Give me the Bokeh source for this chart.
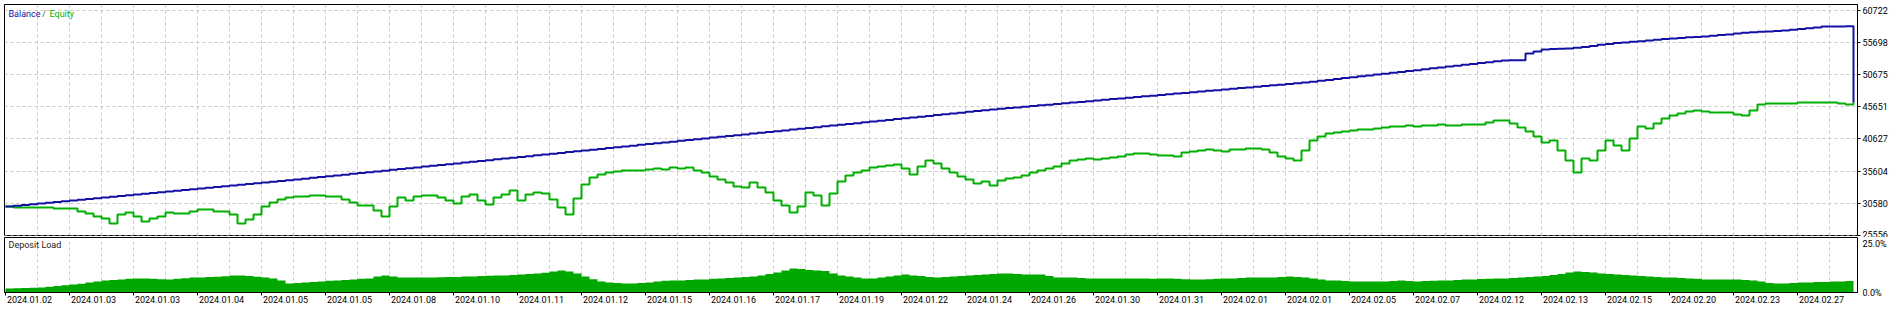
import numpy as np
from bokeh.plotting import figure
from bokeh.models import Range1d, FixedTicker, Label, LinearAxis
from bokeh.layouts import column
from bokeh.embed import file_html
from bokeh.resources import INLINE

# ---------------- data ----------------
equity = [
    30048, 29892, 29892, 29892, 29892, 29892, 29735, 29735, 29735, 29266,
    28953, 28483, 28170, 27388, 28796, 29109, 28483, 27701, 28170, 28483,
    29109, 28953, 28953, 29266, 29579, 29579, 29266, 29266, 28796, 27388,
    28014, 28796, 30048, 30674, 31144, 31457, 31613, 31613, 31770, 31770,
    31613, 31613, 31144, 30674, 30205, 30205, 29422, 28483, 30048, 31457,
    30987, 31613, 31770, 31770, 31457, 30987, 30518, 31613, 31926, 30987,
    30361, 31457, 31926, 32552, 30987, 31926, 32239, 32083, 31144, 29892,
    28796, 31300, 33491, 34587, 35056, 35369, 35526, 35682, 35682, 35682,
    35839, 35995, 35839, 36152, 35995, 36152, 35682, 35369, 34743, 34274,
    33804, 33178, 33022, 33804, 33022, 32239, 30987, 30205, 29109, 30048,
    32239, 31770, 30205, 32083, 33961, 34900, 35369, 35682, 36152, 36308,
    36465, 36621, 35995, 35056, 36308, 37247, 36778, 35995, 35369, 34743,
    34274, 33648, 33961, 33335, 34117, 34430, 34587, 34900, 35369, 35682,
    35995, 36308, 36778, 37247, 37404, 37560, 37404, 37560, 37717, 37873,
    38186, 38343, 38343, 38186, 38030, 38030, 37873, 38499, 38656, 38812,
    38969, 38812, 38656, 38969, 38969, 39125, 39125, 38969, 38499, 37873,
    37560, 37247, 38812, 40377, 41003, 41473, 41629, 41786, 41942, 42099,
    42099, 42255, 42412, 42568, 42568, 42725, 42568, 42725, 42725, 42881,
    42725, 42725, 42881, 42881, 42881, 43194, 43507, 43507, 43038, 42412,
    41786, 41003, 40064, 40377, 38812, 37247, 35369, 37560, 37247, 38812,
    40377, 39595, 38812, 40690, 42568, 42255, 43038, 43820, 44290, 44603,
    44916, 45072, 44916, 44759, 44759, 44759, 44446, 44290, 45072, 46011,
    46168, 46168, 46168, 46168, 46324, 46324, 46324, 46324, 46324, 46168,
    46011, 46324,
]

balance = [
    30048, 30160, 30280, 30395, 30510, 30630, 30745, 30860, 30980, 31095,
    31215, 31330, 31450, 31565, 31680, 31800, 31915, 32030, 32150, 32270,
    32390, 32500, 32620, 32740, 32850, 32970, 33090, 33200, 33320, 33440,
    33555, 33670, 33790, 33905, 34020, 34150, 34275, 34400, 34530, 34655,
    34780, 34905, 35030, 35160, 35285, 35410, 35535, 35660, 35790, 35915,
    36040, 36165, 36290, 36420, 36545, 36670, 36795, 36920, 37050, 37175,
    37300, 37425, 37550, 37680, 37805, 37930, 38055, 38180, 38310, 38435,
    38560, 38685, 38810, 38940, 39065, 39190, 39315, 39440, 39570, 39695,
    39820, 39945, 40070, 40200, 40325, 40450, 40575, 40700, 40830, 40955,
    41080, 41205, 41330, 41460, 41585, 41710, 41835, 41960, 42090, 42215,
    42340, 42465, 42590, 42720, 42845, 42970, 43095, 43220, 43350, 43475,
    43600, 43725, 43850, 43980, 44105, 44230, 44355, 44480, 44610, 44735,
    44860, 44985, 45110, 45240, 45365, 45450, 45560, 45665, 45775, 45880,
    45990, 46100, 46205, 46315, 46420, 46530, 46640, 46745, 46855, 46960,
    47070, 47180, 47285, 47395, 47500, 47610, 47720, 47825, 47935, 48040,
    48150, 48260, 48365, 48475, 48580, 48690, 48800, 48905, 49015, 49120,
    49230, 49340, 49445, 49585, 49725, 49860, 50000, 50140, 50280, 50420,
    50555, 50695, 50835, 50975, 51115, 51250, 51390, 51530, 51670, 51810,
    51945, 52085, 52225, 52365, 52505, 52640, 52780, 52900, 52920, 52950,
    54000, 54300, 54600, 54700, 54750, 54780, 54880, 55000, 55150, 55350,
    55480, 55620, 55720, 55820, 55900, 56020, 56150, 56280, 56350, 56420,
    56520, 56580, 56650, 56760, 56870, 56980, 57120, 57230, 57320, 57380,
    57430, 57500, 57600, 57720, 57830, 57930, 58050, 58200, 58220, 58230,
    58240, 46324,
]

deposit_load = [
    1.8, 1.9, 2.0, 2.2, 2.3, 2.6, 2.9, 3.3, 3.6, 4.0,
    4.5, 5.0, 5.5, 5.7, 5.9, 6.2, 6.4, 6.4, 6.2, 6.0,
    5.9, 6.2, 6.5, 6.8, 6.8, 7.0, 7.2, 7.4, 7.7, 7.7,
    7.5, 7.2, 6.8, 6.4, 5.5, 4.1, 4.3, 4.5, 4.8, 5.0,
    5.3, 5.5, 5.7, 5.9, 6.2, 6.4, 7.3, 7.7, 7.3, 6.8,
    6.8, 6.8, 6.8, 6.8, 6.9, 7.0, 7.1, 7.3, 7.3, 7.5,
    7.6, 7.7, 7.7, 8.0, 8.2, 8.4, 8.6, 9.0, 9.5, 10.0,
    9.5, 8.6, 7.3, 6.0, 5.0, 4.5, 4.3, 4.1, 4.1, 4.3,
    4.5, 5.0, 5.3, 5.5, 5.5, 5.7, 5.9, 5.9, 6.2, 6.4,
    6.6, 6.8, 7.0, 7.3, 7.7, 8.4, 9.1, 10.0, 10.9, 10.7,
    10.2, 10.0, 9.8, 8.6, 7.7, 7.3, 6.8, 6.4, 6.4, 6.8,
    7.3, 7.7, 8.2, 7.7, 7.5, 7.1, 6.8, 7.0, 7.3, 7.5,
    7.7, 7.9, 8.2, 8.4, 8.6, 8.6, 8.4, 8.2, 8.2, 8.2,
    7.5, 6.8, 6.8, 6.8, 6.6, 6.4, 6.4, 6.4, 6.4, 6.4,
    6.4, 6.4, 6.4, 6.2, 6.4, 6.4, 6.2, 6.0, 5.9, 5.9,
    6.0, 6.2, 6.4, 6.4, 6.6, 6.8, 6.8, 6.8, 6.8, 7.1,
    7.3, 7.1, 6.8, 6.4, 5.9, 5.5, 5.5, 5.2, 5.0, 5.0,
    5.0, 5.0, 5.0, 5.2, 5.5, 5.2, 5.0, 5.2, 5.3, 5.5,
    5.5, 5.7, 5.9, 5.9, 6.1, 6.2, 6.4, 6.4, 6.6, 6.8,
    7.0, 7.3, 7.5, 8.0, 8.4, 9.1, 9.5, 9.3, 9.1, 8.6,
    8.4, 8.2, 7.9, 7.7, 7.5, 7.3, 7.0, 6.8, 6.8, 6.6,
    6.4, 6.2, 5.9, 5.9, 5.9, 5.9, 5.9, 5.7, 5.5, 5.0,
    4.3, 4.1, 4.1, 4.3, 4.5, 4.5, 4.8, 4.8, 5.0, 5.0,
    5.2, 5.5,
]

date_labels = [
    "2024.01.02", "2024.01.03", "2024.01.03", "2024.01.04", "2024.01.05",
    "2024.01.05", "2024.01.08", "2024.01.10", "2024.01.11", "2024.01.12",
    "2024.01.15", "2024.01.16", "2024.01.17", "2024.01.19", "2024.01.22",
    "2024.01.24", "2024.01.26", "2024.01.30", "2024.01.31", "2024.02.01",
    "2024.02.01", "2024.02.05", "2024.02.07", "2024.02.12", "2024.02.13",
    "2024.02.15", "2024.02.20", "2024.02.23", "2024.02.27",
]

value_ticks = [25556, 30580, 35604, 40627, 45651, 50675, 55698, 60722]
load_tick_labels = ["0.0%", "25.0%"]

# ---------------- styling ----------------
FONT = "Roboto"
FS = "9px"
BLUE = "#1212a8"
GREEN = "#00b000"
LOAD_GREEN = "#00a800"
GRID = "#c8c8c8"

x = np.arange(len(equity))
label_ticks = [8 * i for i in range(len(date_labels))]
label_anchor = [t + 3 for t in label_ticks]      # labels start just right of their tick
grid_ticks = [4 * i for i in range(1, 58)]

xr = Range1d(-0.125, 231.5)

top = figure(width=1902, height=237, x_range=xr, y_range=Range1d(25510, 61661),
             output_backend="svg", toolbar_location=None,
             x_axis_location=None, y_axis_location="right",
             min_border_left=4, min_border_right=45, min_border_top=4, min_border_bottom=2)
top.outline_line_color = "black"
top.outline_line_width = 1
top.background_fill_color = "white"
top.border_fill_color = "white"
top.xgrid.ticker = FixedTicker(ticks=grid_ticks)
top.ygrid.ticker = FixedTicker(ticks=value_ticks)
for g in (top.xgrid[0], top.ygrid[0]):
    g.grid_line_color = GRID
    g.grid_line_dash = "3 3"
    g.grid_line_width = 1
ya = top.yaxis[0]
ya.ticker = FixedTicker(ticks=value_ticks)
ya.major_label_overrides = {v: str(v) for v in value_ticks}
ya.major_tick_out = 3
ya.major_tick_in = 0
ya.minor_tick_out = 0
ya.minor_tick_in = 0
ya.major_label_standoff = 2
ya.axis_line_color = "black"
ya.major_tick_line_color = "black"
ya.major_label_text_font = FONT
ya.major_label_text_font_size = FS
ya.major_label_text_color = "black"

top.step(x, equity, mode="after", line_color=GREEN, line_width=2)
top.step(x, balance, mode="after", line_color=BLUE, line_width=2)

top.add_layout(Label(x=0.375, y=60252, text="Balance", text_color=BLUE, text_font=FONT,
                     text_font_size=FS, text_baseline="middle", text_align="left"))
top.add_layout(Label(x=4.6, y=60252, text="/", text_color="#555555", text_font=FONT,
                     text_font_size=FS, text_baseline="middle", text_align="left"))
top.add_layout(Label(x=5.5, y=60252, text="Equity", text_color=GREEN, text_font=FONT,
                     text_font_size=FS, text_baseline="middle", text_align="left"))

bot = figure(width=1902, height=72, x_range=xr, y_range=Range1d(0, 25),
             output_backend="svg", toolbar_location=None,
             x_axis_location="below", y_axis_location="right",
             min_border_left=4, min_border_right=45, min_border_top=0, min_border_bottom=17)
bot.outline_line_color = "black"
bot.outline_line_width = 1
bot.background_fill_color = "white"
bot.border_fill_color = "white"
bot.xgrid.ticker = FixedTicker(ticks=grid_ticks)
bot.xgrid.grid_line_color = GRID
bot.xgrid.grid_line_dash = "3 3"
bot.ygrid.visible = False

bot.varea_step(x=x, y1=np.zeros(len(deposit_load)), y2=deposit_load, step_mode="after",
               fill_color=LOAD_GREEN)

# axis carrying only the tick marks (its labels are not painted)
xa = bot.xaxis[0]
xa.ticker = FixedTicker(ticks=label_ticks)
xa.major_tick_out = 3
xa.major_tick_in = 0
xa.minor_tick_out = 0
xa.minor_tick_in = 0
xa.major_label_standoff = 0
xa.major_label_text_color = None
xa.major_label_text_font_size = "1px"
xa.axis_line_color = "black"
xa.major_tick_line_color = "black"

# axis carrying the date labels (left-aligned look)
xl = LinearAxis(ticker=FixedTicker(ticks=label_anchor),
                major_label_overrides={t: lab for t, lab in zip(label_anchor, date_labels)},
                axis_line_color=None, major_tick_line_color=None, minor_tick_line_color=None,
                major_tick_out=0, major_tick_in=0, minor_tick_out=0, minor_tick_in=0,
                major_label_standoff=0, major_label_text_font=FONT,
                major_label_text_font_size=FS, major_label_text_color="black")
bot.add_layout(xl, "below")

yb = bot.yaxis[0]
yb.ticker = FixedTicker(ticks=[0, 22])
yb.major_label_overrides = {0: load_tick_labels[0], 22: load_tick_labels[1]}
yb.major_tick_out = 0
yb.major_tick_in = 0
yb.minor_tick_out = 0
yb.minor_tick_in = 0
yb.major_label_standoff = 5
yb.axis_line_color = "black"
yb.major_label_text_font = FONT
yb.major_label_text_font_size = FS
yb.major_label_text_color = "black"

bot.add_layout(Label(x=0.375, y=21.4, text="Deposit Load", text_color="#222222", text_font=FONT,
                     text_font_size=FS, text_baseline="middle", text_align="left"))

layout = column(top, bot, spacing=0)
open("out.html", "w").write(file_html(layout, INLINE))
